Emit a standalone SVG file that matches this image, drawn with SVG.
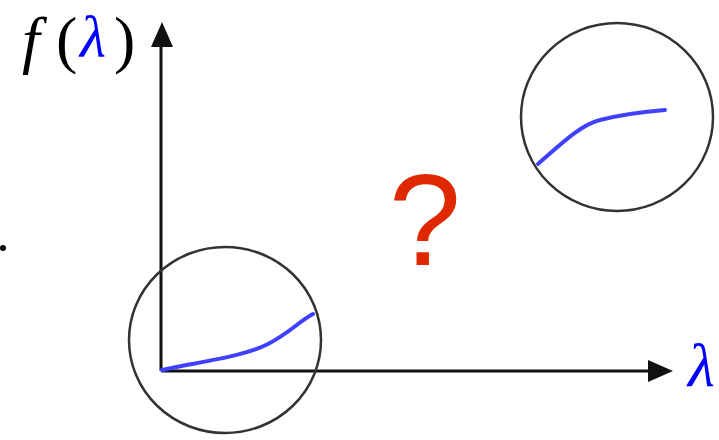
<svg xmlns="http://www.w3.org/2000/svg" width="719" height="440" viewBox="0 0 719 440">
<style>
.ax{stroke:#111;stroke-width:3;fill:none}
.ring{stroke:#333;stroke-width:2.5;fill:none}
.curve{stroke:#4040ff;stroke-width:4;fill:none;stroke-linecap:round}
.math{font-family:"Liberation Serif","DejaVu Serif",serif;font-style:italic}
.rm{font-family:"Liberation Serif","DejaVu Serif",serif}
</style>
<rect width="719" height="440" fill="#fff"/>
<g id="connectors">
<path class="ax" d="M161,371 L161,46"/>
<path d="M151,47 L162,22 L173,47 z" fill="#111"/>
<path class="ax" d="M161,371 L650,371"/>
<path d="M648,360 L673,371 L648,382 z" fill="#111"/>
</g>
<g id="ylabel">
<text x="22" y="61" class="math" font-size="64" fill="#000">f</text>
<text x="56" y="61" class="rm" font-size="64" fill="#000">(</text>
<text x="80" y="57" class="math" font-size="60" fill="#0000ff">λ</text>
<text x="114" y="61" class="rm" font-size="64" fill="#000">)</text>
</g>
<g id="xlabel">
<text x="688" y="386" class="math" font-size="62" fill="#0000ff">λ</text>
</g>
<g id="dot"><circle cx="3" cy="248" r="3" fill="#000"/></g>
<g id="lower">
<ellipse class="ring" cx="225" cy="340" rx="96" ry="93"/>
<path class="curve" d="M162,370 C205,361 245,356 268,344 S298,322 313,314"/>
</g>
<g id="upper">
<ellipse class="ring" cx="617" cy="117" rx="96" ry="94"/>
<path class="curve" d="M538,164 C560,145 580,125 600,120 S640,112 665,110"/>
</g>
<g id="question">
<text x="425" y="265" text-anchor="middle" font-family="Liberation Sans,Arial,sans-serif" font-size="130" fill="#e02800">?</text>
</g>
</svg>
